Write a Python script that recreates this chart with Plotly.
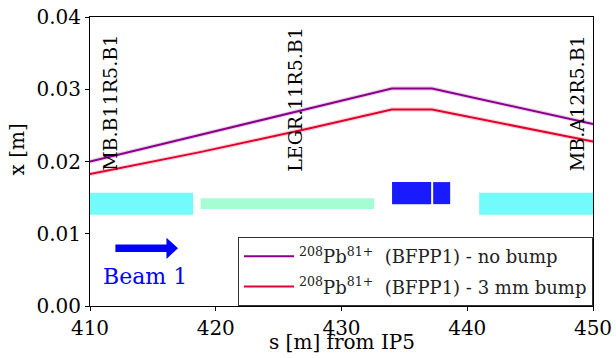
import plotly.graph_objects as go

# ---- data ----
s_nobump = [410.0, 427.5, 434.0, 437.2, 450.0]
x_nobump = [0.0200, 0.02738, 0.0301, 0.0301, 0.0252]
s_bump = [410.0, 418.75, 427.5, 434.0, 437.2, 450.0]
x_bump = [0.01825, 0.0213, 0.0246, 0.0272, 0.0272, 0.02276]
band_halfwidth = 0.0003

# aperture elements: (s_start, s_end, x_low, x_high, color)
elem_s0 = [410.0, 418.8, 434.02, 437.29, 440.95]
elem_s1 = [418.2, 432.6, 437.13, 438.64, 450.0]
elem_lo = [0.01262, 0.01341, 0.0141, 0.0141, 0.01262]
elem_hi = [0.01567, 0.01493, 0.01715, 0.01715, 0.01567]
elem_col = ["rgb(115,251,251)", "rgb(166,252,211)", "rgb(26,26,255)",
            "rgb(26,26,255)", "rgb(115,251,251)"]

labels = ["MB.B11R5.B1", "LEGR.11R5.B1", "MB.A12R5.B1"]
label_s = [411.63, 426.3, 448.79]
label_y = 0.01836

arrow_s = [412.02, 416.08, 417.0]
arrow_y = [0.00749, 0.00851, 0.00652, 0.00943, 0.0080]
beam_text_pos = (414.35, 0.00412)

xticks = [410, 420, 430, 440, 450]
yticks = [0.00, 0.01, 0.02, 0.03, 0.04]

serif = "DejaVu Serif"
purple = "#8B008B"
red = "#E3002D"

fig = go.Figure()

def band(s, x, color):
    up = [v + band_halfwidth for v in x]
    lo = [v - band_halfwidth for v in x]
    fig.add_trace(go.Scatter(x=s + s[::-1], y=up + lo[::-1], mode="lines", fill="toself",
                             fillcolor=color, line=dict(width=0),
                             hoverinfo="skip", showlegend=False))

band(s_nobump, x_nobump, "rgba(139,0,139,0.18)")
band(s_bump, x_bump, "rgba(227,0,45,0.18)")

fig.add_trace(go.Scatter(x=s_nobump, y=x_nobump, mode="lines", legendgroup="a",
                         line=dict(color=purple, width=2),
                         name="<sup>208</sup>Pb<sup>81+</sup>  (BFPP1) - no bump"))
fig.add_trace(go.Scatter(x=s_bump, y=x_bump, mode="lines", legendgroup="b",
                         line=dict(color=red, width=2),
                         name="<sup>208</sup>Pb<sup>81+</sup>  (BFPP1) - 3 mm bump"))

for a, b, lo, hi, c in zip(elem_s0, elem_s1, elem_lo, elem_hi, elem_col):
    fig.add_shape(type="rect", x0=a, x1=b, y0=lo, y1=hi, xref="x", yref="y",
                  fillcolor=c, line=dict(width=0), layer="below")

for t, s in zip(labels, label_s):
    fig.add_annotation(x=s, y=label_y, text=t, textangle=-90, showarrow=False,
                       xanchor="center", yanchor="bottom",
                       font=dict(family=serif, size=19, color="black"))

a0, a1, a2 = arrow_s
yl, yh, hl, hh, ym = arrow_y
path = (f"M {a0},{yl} L {a1},{yl} L {a1},{hl} L {a2},{ym} L {a1},{hh} "
        f"L {a1},{yh} L {a0},{yh} Z")
fig.add_shape(type="path", path=path, xref="x", yref="y",
              fillcolor="#0000ff", line=dict(width=0))
fig.add_annotation(x=beam_text_pos[0], y=beam_text_pos[1], text="Beam 1",
                   showarrow=False, font=dict(family=serif, size=22, color="#0000ff"))

# axis titles
fig.add_annotation(x=0.5, y=-0.126, xref="paper", yref="paper", text="s [m] from IP5",
                   showarrow=False, xanchor="center", yanchor="middle",
                   font=dict(family=serif, size=20, color="black"))
fig.add_annotation(x=-0.146, y=0.54, xref="paper", yref="paper", text="x [m]",
                   textangle=-90, showarrow=False, xanchor="center", yanchor="middle",
                   font=dict(family=serif, size=20, color="black"))

axis_common = dict(showline=True, linecolor="black", linewidth=1, mirror=True,
                   ticks="outside", ticklen=4, tickcolor="black", showgrid=False,
                   zeroline=False, automargin=False,
                   tickfont=dict(family=serif, size=20, color="black"))
fig.update_xaxes(range=[410, 450], tickvals=xticks, ticktext=[str(v) for v in xticks],
                 **axis_common)
fig.update_yaxes(range=[0, 0.04], tickvals=yticks, ticktext=[f"{v:.2f}" for v in yticks],
                 **axis_common)

fig.update_layout(width=616, height=358, margin=dict(l=90, r=23, t=17, b=52),
                  font=dict(family=serif, color="black"),
                  paper_bgcolor="white", plot_bgcolor="white",
                  legend=dict(x=1, y=0, xanchor="right", yanchor="bottom",
                              bgcolor="rgba(255,255,255,0.8)", bordercolor="#333",
                              borderwidth=1, tracegroupgap=4, itemwidth=50,
                              font=dict(family=serif, size=18, color="#222")))

fig.write_html("out.html")
